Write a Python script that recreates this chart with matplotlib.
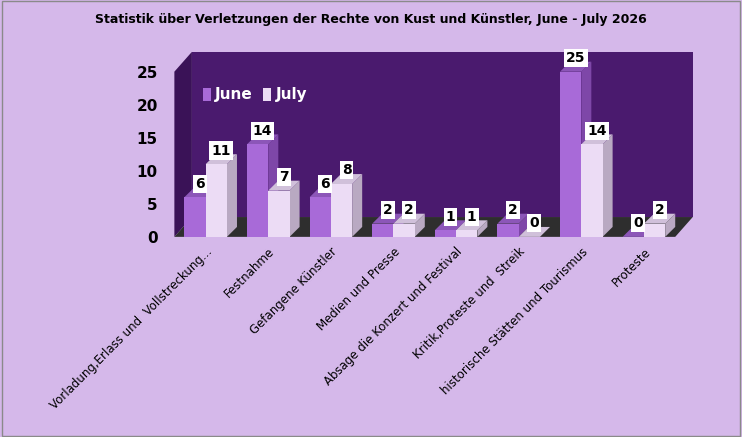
import matplotlib.pyplot as plt
from matplotlib.patches import Polygon, Rectangle

categories = ["Vorladung,Erlass und  Vollstreckung...", "Festnahme", "Gefangene Künstler",
              "Medien und Presse", "Absage die Konzert und Festival", "Kritik,Proteste und  Streik",
              "historische Stätten und Tourismus", "Proteste"]
june = [6, 14, 6, 2, 1, 2, 25, 0]
july = [11, 7, 8, 2, 1, 0, 14, 2]

fig = plt.figure(figsize=(7.42, 4.37), dpi=100, facecolor="#d5b8ea")
fig.patches.append(Rectangle((0.003, 0.003), 0.994, 0.994, transform=fig.transFigure,
                             fill=False, edgecolor="#8a8a8a", lw=1))
ax = fig.add_axes([0.235, 0.458, 0.675, 0.378])
ax.set_xlim(-0.5, 7.5)
ax.set_ylim(0, 25)
for s in ax.spines.values():
    s.set_visible(False)
ax.patch.set_alpha(0)

xl, xr = -0.5, 7.5
d, dd = 0.28, 3.0
wall = "#4a1a6e"
# back wall, left wall, floor
ax.add_patch(Polygon([(xl + d, dd), (xr + d, dd), (xr + d, 25 + dd), (xl + d, 25 + dd)],
                     closed=True, fc=wall, ec="none", clip_on=False, zorder=0))
ax.add_patch(Polygon([(xl, 0), (xl + d, dd), (xl + d, 25 + dd), (xl, 25)],
                     closed=True, fc="#3a1257", ec="none", clip_on=False, zorder=0))
ax.add_patch(Polygon([(xl, 0), (xr, 0), (xr + d, dd), (xl + d, dd)],
                     closed=True, fc="#2e2e2e", ec="none", clip_on=False, zorder=1))

w = 0.34
bd, bdd = 0.16, 1.5


def bar3d(x, h, front, side, top):
    x0, x1 = x - w / 2, x + w / 2
    ax.add_patch(Polygon([(x1, 0), (x1 + bd, bdd), (x1 + bd, h + bdd), (x1, h)],
                         fc=side, ec="none", clip_on=False, zorder=3))
    ax.add_patch(Polygon([(x0, h), (x1, h), (x1 + bd, h + bdd), (x0 + bd, h + bdd)],
                         fc=top, ec="none", clip_on=False, zorder=3))
    ax.add_patch(Rectangle((x0, 0), w, h, fc=front, ec="none", clip_on=False, zorder=4))
    ax.text(x + bd / 2, h + 1.0, str(h), ha="center", va="bottom", fontsize=10, fontweight="bold",
            zorder=6, bbox=dict(boxstyle="square,pad=0.15", fc="white", ec="none"))


for i in range(len(categories)):
    bar3d(i - w / 2, june[i], "#a86ad8", "#7e47a8", "#8c56b8")
    bar3d(i + w / 2, july[i], "#ecdcf5", "#b9a9c2", "#d0c0da")

ax.set_yticks([0, 5, 10, 15, 20, 25])
ax.tick_params(axis="y", length=0, labelsize=11, pad=12)
for t in ax.get_yticklabels():
    t.set_fontweight("bold")
ax.set_xticks(range(len(categories)))
ax.set_xticklabels(categories, rotation=45, ha="right", rotation_mode="anchor", fontsize=8.5)
ax.tick_params(axis="x", length=0, pad=6)

ax.add_patch(Rectangle((-0.05, 20.5), 0.13, 2.0, fc="#a86ad8", clip_on=False, zorder=5))
ax.text(0.15, 21.5, "June", color="white", fontsize=11, fontweight="bold", va="center")
ax.add_patch(Rectangle((0.92, 20.5), 0.13, 2.0, fc="#ecdcf5", clip_on=False, zorder=5))
ax.text(1.12, 21.5, "July", color="white", fontsize=11, fontweight="bold", va="center")

fig.text(0.5, 0.955, "Statistik über Verletzungen der Rechte von Kust und Künstler, June - July 2026",
         ha="center", va="center", fontsize=9, fontweight="bold")

fig.savefig("out.png", dpi=100, facecolor=fig.get_facecolor())
